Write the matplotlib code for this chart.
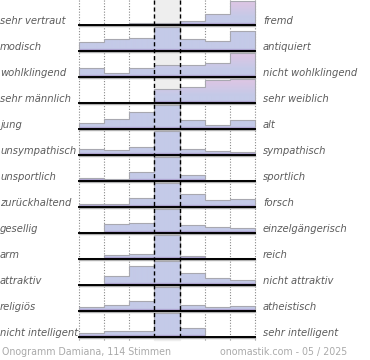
import matplotlib.pyplot as plt
import numpy as np
from matplotlib.patches import Polygon
from matplotlib.colors import to_rgb

left_labels = ["sehr vertraut", "modisch", "wohlklingend", "sehr männlich", "jung",
               "unsympathisch", "unsportlich", "zurückhaltend", "gesellig", "arm",
               "attraktiv", "religiös", "nicht intelligent"]
right_labels = ["fremd", "antiquiert", "nicht wohlklingend", "sehr weiblich", "alt",
                "sympathisch", "sportlich", "forsch", "einzelgängerisch", "reich",
                "nicht attraktiv", "atheistisch", "sehr intelligent"]

# share per scale step, relative to the row height (clipped at 1)
votes = [
    [0.00, 0.00, 0.07, 0.07, 0.15, 0.45, 1.00],
    [0.39, 0.49, 0.53, 1.00, 0.49, 0.43, 0.85],
    [0.36, 0.15, 0.36, 0.49, 0.49, 0.58, 1.00],
    [0.03, 0.03, 0.03, 0.58, 0.68, 0.95, 1.00],
    [0.24, 0.43, 0.70, 1.00, 0.39, 0.18, 0.39],
    [0.24, 0.21, 0.32, 1.00, 0.24, 0.17, 0.12],
    [0.14, 0.10, 0.37, 1.00, 0.24, 0.04, 0.04],
    [0.14, 0.14, 0.39, 1.00, 0.56, 0.28, 0.32],
    [0.04, 0.36, 0.40, 1.00, 0.32, 0.24, 0.21],
    [0.03, 0.17, 0.21, 1.00, 0.11, 0.06, 0.03],
    [0.00, 0.36, 0.79, 1.00, 0.49, 0.28, 0.22],
    [0.18, 0.25, 0.40, 1.00, 0.25, 0.17, 0.19],
    [0.15, 0.25, 0.25, 1.00, 0.36, 0.00, 0.05],
]
# rows whose bars fade to pink at the top
pink_rows = [True, False, True, True, False, False, False,
             False, False, False, False, False, False]

footer_left = "Onogramm Damiana, 114 Stimmen"
footer_right = "onomastik.com - 05 / 2025"

# layout (pixel coordinates)
x0, x1 = 79, 255
ncol = 7
cw = (x1 - x0) / ncol
edges = x0 + cw * np.arange(ncol + 1)
first_base, row_h, bar_h = 25, 26, 24
bottom_y = 340

blue = np.array(to_rgb('#c4cae8'))
pink = np.array(to_rgb('#dcc6e4'))
dark = np.array(to_rgb('#aa9ecc'))


def gradient(pinky):
    n = 48
    img = np.zeros((n, 1, 3))
    for i in range(n):
        h = (i + 0.5) / n * bar_h
        if h < 2:
            c = dark
        else:
            c = blue
            if pinky and h > 8:
                t = min(1, (h - 8) / 14)
                c = blue * (1 - t) + pink * t
        img[i, 0] = c
    return img


fig = plt.figure(figsize=(3.7, 3.6), dpi=100)
ax = fig.add_axes([0, 0, 1, 1])
ax.set_xlim(0, 370)
ax.set_ylim(360, 0)
ax.axis('off')

# middle column band
ax.axvspan(edges[3], edges[4], ymin=1 - bottom_y / 360, ymax=1, color='#eeeeee', zorder=0)

for i, (vals, lt, rt) in enumerate(zip(votes, left_labels, right_labels)):
    base = first_base + row_h * i
    hs = np.clip(np.array(vals), 0, 1) * bar_h
    pts = [(edges[0], base)]
    for j in range(ncol):
        pts.append((edges[j], base - hs[j]))
        pts.append((edges[j + 1], base - hs[j]))
    pts.append((edges[-1], base))
    poly = Polygon(pts, closed=True, facecolor='none', edgecolor='#a8a8b0',
                   lw=0.8, zorder=3)
    ax.add_patch(poly)
    im = ax.imshow(gradient(pink_rows[i]), extent=(x0, x1, base, base - bar_h),
                   origin='lower', aspect='auto', interpolation='bilinear', zorder=2)
    im.set_clip_path(poly)
    # baseline with shadow
    ax.plot([x0, x1], [base + 1.2, base + 1.2], color='#b0b0b0', lw=1.0, zorder=4)
    ax.plot([x0, x1], [base, base], color='black', lw=1.4, zorder=5)

    ax.text(0, base - 1, lt, ha='left', va='baseline', fontsize=7.2,
            style='italic', color='#5c5c5c')
    ax.text(263, base - 1, rt, ha='left', va='baseline', fontsize=7.2,
            style='italic', color='#5c5c5c')

for j, xe in enumerate(edges):
    if j in (3, 4):
        ax.plot([xe, xe], [0, bottom_y], color='black', lw=1.0,
                linestyle=(0, (3, 2)), zorder=6)
    else:
        ax.plot([xe, xe], [0, bottom_y], color='#888888', lw=0.8,
                linestyle=(0, (1, 1.5)), zorder=1)

ax.text(2, 355, footer_left, ha='left', va='baseline', fontsize=6.85, color='#aaaaaa')
ax.text(220, 355, footer_right, ha='left', va='baseline', fontsize=6.85, color='#aaaaaa')

plt.savefig('out.png', dpi=100)
